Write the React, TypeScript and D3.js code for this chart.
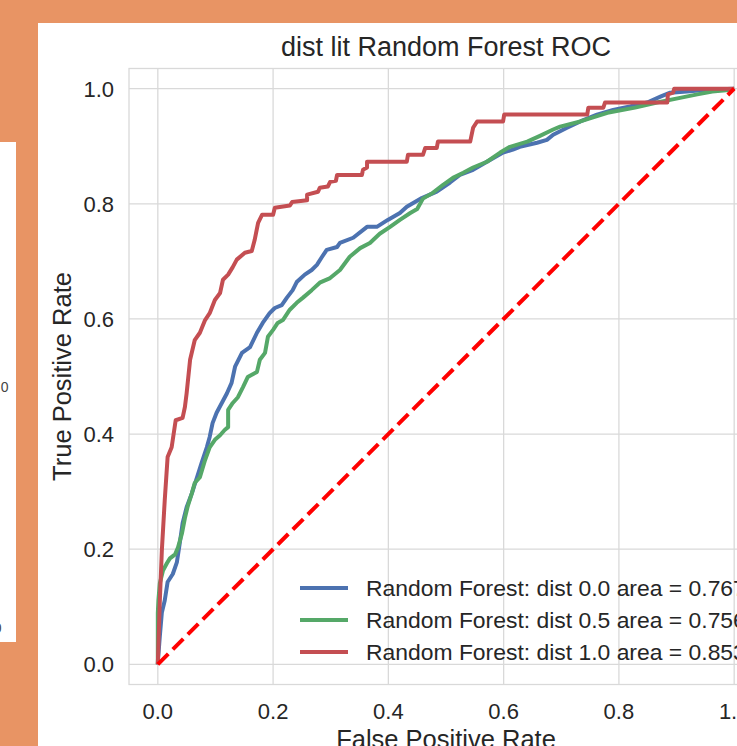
import React from "react";
import * as d3 from "d3";

// Axis ticks
const xTicks = [0, 0.2, 0.4, 0.6, 0.8, 1.0];
const yTicks = [0, 0.2, 0.4, 0.6, 0.8, 1.0];

// Legend labels
const seriesLabels = [
  "Random Forest: dist 0.0 area = 0.767",
  "Random Forest: dist 0.5 area = 0.756",
  "Random Forest: dist 1.0 area = 0.853",
];
const seriesColors = ["#4C72B0", "#55A868", "#C44E52"];

// ROC curve, dist 0.0
const fprDist00 = [0, 0.0005, 0.0035, 0.007, 0.012, 0.017, 0.026, 0.033, 0.038, 0.043, 0.05, 0.059, 0.068, 0.076, 0.085, 0.09, 0.095, 0.102, 0.111, 0.12, 0.128, 0.134, 0.146, 0.16, 0.172, 0.182, 0.194, 0.203, 0.215, 0.224, 0.234, 0.241, 0.255, 0.267, 0.276, 0.285, 0.293, 0.311, 0.316, 0.339, 0.363, 0.38, 0.399, 0.42, 0.432, 0.458, 0.484, 0.507, 0.524, 0.547, 0.571, 0.599, 0.616, 0.628, 0.658, 0.675, 0.686, 0.71, 0.733, 0.762, 0.79, 0.819, 0.849, 0.872, 0.889, 0.918, 0.953, 1.0];
const tprDist00 = [0, 0.01, 0.049, 0.09, 0.111, 0.143, 0.157, 0.177, 0.21, 0.245, 0.273, 0.297, 0.325, 0.35, 0.377, 0.395, 0.419, 0.437, 0.454, 0.471, 0.489, 0.517, 0.541, 0.551, 0.576, 0.593, 0.61, 0.619, 0.624, 0.637, 0.65, 0.664, 0.677, 0.685, 0.694, 0.708, 0.72, 0.725, 0.732, 0.741, 0.76, 0.76, 0.772, 0.784, 0.795, 0.81, 0.821, 0.837, 0.85, 0.859, 0.873, 0.889, 0.894, 0.899, 0.906, 0.911, 0.92, 0.932, 0.943, 0.955, 0.963, 0.969, 0.976, 0.986, 0.993, 0.995, 0.998, 1.0];

// ROC curve, dist 0.5
const fprDist05 = [0, 0, 0, 0.001, 0.0035, 0.009, 0.016, 0.021, 0.03, 0.035, 0.042, 0.047, 0.052, 0.059, 0.064, 0.073, 0.082, 0.09, 0.099, 0.108, 0.116, 0.122, 0.122, 0.13, 0.139, 0.148, 0.156, 0.172, 0.177, 0.186, 0.191, 0.2, 0.208, 0.217, 0.229, 0.241, 0.252, 0.267, 0.281, 0.299, 0.316, 0.333, 0.351, 0.368, 0.385, 0.403, 0.42, 0.438, 0.45, 0.46, 0.477, 0.495, 0.512, 0.53, 0.547, 0.571, 0.594, 0.611, 0.641, 0.663, 0.686, 0.698, 0.733, 0.78, 0.828, 0.866, 0.906, 0.936, 0.962, 0.986, 1.0];
const tprDist05 = [0, 0.037, 0.089, 0.111, 0.141, 0.163, 0.176, 0.184, 0.191, 0.203, 0.228, 0.254, 0.275, 0.297, 0.315, 0.325, 0.355, 0.377, 0.39, 0.398, 0.407, 0.412, 0.442, 0.454, 0.464, 0.482, 0.499, 0.508, 0.529, 0.541, 0.569, 0.581, 0.593, 0.598, 0.616, 0.628, 0.637, 0.65, 0.663, 0.671, 0.685, 0.708, 0.723, 0.732, 0.748, 0.76, 0.772, 0.784, 0.791, 0.809, 0.819, 0.833, 0.845, 0.854, 0.863, 0.873, 0.889, 0.899, 0.908, 0.918, 0.929, 0.934, 0.943, 0.958, 0.967, 0.976, 0.984, 0.99, 0.995, 0.997, 1.0];

// ROC curve, dist 1.0
const fprDist10 = [0, 0.0035, 0.007, 0.012, 0.017, 0.024, 0.031, 0.043, 0.047, 0.05, 0.056, 0.064, 0.073, 0.082, 0.09, 0.099, 0.108, 0.113, 0.122, 0.13, 0.137, 0.151, 0.163, 0.168, 0.174, 0.181, 0.2, 0.203, 0.229, 0.233, 0.259, 0.259, 0.278, 0.281, 0.295, 0.299, 0.309, 0.311, 0.354, 0.356, 0.363, 0.363, 0.432, 0.434, 0.46, 0.464, 0.484, 0.486, 0.542, 0.547, 0.554, 0.599, 0.601, 0.745, 0.747, 0.773, 0.776, 0.884, 0.885, 0.894, 0.896, 1.0];
const tprDist10 = [0, 0.111, 0.198, 0.285, 0.36, 0.377, 0.424, 0.428, 0.447, 0.471, 0.529, 0.563, 0.576, 0.598, 0.61, 0.633, 0.645, 0.668, 0.677, 0.69, 0.703, 0.715, 0.718, 0.737, 0.767, 0.781, 0.781, 0.793, 0.797, 0.803, 0.806, 0.816, 0.821, 0.828, 0.83, 0.838, 0.84, 0.85, 0.85, 0.859, 0.863, 0.873, 0.873, 0.885, 0.885, 0.897, 0.897, 0.908, 0.908, 0.932, 0.943, 0.943, 0.955, 0.955, 0.967, 0.967, 0.976, 0.976, 0.99, 0.993, 1.0, 1.0];

const curves = [
  { fpr: fprDist00, tpr: tprDist00 },
  { fpr: fprDist05, tpr: tprDist05 },
  { fpr: fprDist10, tpr: tprDist10 },
];

const W = 737;
const H = 746;
const FONT = "'Liberation Sans', Arial, Helvetica, sans-serif";

const plot = { left: 129, top: 68.5, bottom: 684.5, right: 763 };

export default function App() {
  const x = d3.scaleLinear().domain([-0.05, 1.05]).range([plot.left, plot.right]);
  const y = d3
    .scaleLinear()
    .domain([-0.035, 1.035])
    .range([plot.bottom, plot.top]);

  const line = d3
    .line<[number, number]>()
    .x((d) => x(d[0]))
    .y((d) => y(d[1]));

  const diag = line([
    [0, 0],
    [1, 1],
  ]);

  return (
    <svg
      width={W}
      height={H}
      style={{ position: "absolute", left: 0, top: 0, display: "block" }}
      fontFamily={FONT}
    >
      <defs>
        <clipPath id="axes-clip">
          <rect x={plot.left} y={plot.top} width={plot.right - plot.left} height={plot.bottom - plot.top} />
        </clipPath>
        <clipPath id="side-clip">
          <rect x={0} y={142} width={16} height={500} />
        </clipPath>
      </defs>
      <rect x={0} y={0} width={W} height={H} fill="#E89464" />
      {/* neighbouring panel */}
      <rect x={0} y={142} width={16} height={500} fill="#ffffff" />
      <g clipPath="url(#side-clip)" fill="#444" fontSize={14}>
        <text x={8.5} y={392} textAnchor="end">1.0</text>
        <text x={1.5} y={633} textAnchor="end">1.0</text>
      </g>
      {/* main figure */}
      <rect x={38} y={23} width={W - 38} height={H - 23} fill="#ffffff" />

      {/* grid */}
      <g stroke="#d9d9d9" strokeWidth={1.3}>
        {xTicks.map((t) => (
          <line key={"gx" + t} x1={x(t)} x2={x(t)} y1={plot.top} y2={plot.bottom} />
        ))}
        {yTicks.map((t) => (
          <line key={"gy" + t} x1={plot.left} x2={plot.right} y1={y(t)} y2={y(t)} />
        ))}
      </g>
      <rect
        x={plot.left}
        y={plot.top}
        width={plot.right - plot.left}
        height={plot.bottom - plot.top}
        fill="none"
        stroke="#d9d9d9"
        strokeWidth={1.3}
      />

      {/* curves */}
      <g clipPath="url(#axes-clip)" fill="none" strokeLinejoin="round">
        {curves.map((c, i) => (
          <path
            key={i}
            d={line(c.fpr.map((f, j) => [f, c.tpr[j]] as [number, number])) || ""}
            stroke={seriesColors[i]}
            strokeWidth={4}
          />
        ))}
        <path d={diag || ""} stroke="#FF0000" strokeWidth={4} strokeDasharray="14.8 6.4" />
      </g>

      {/* tick labels */}
      <g fill="#262626" fontSize={22}>
        {yTicks.map((t) => (
          <text key={"ty" + t} x={114} y={y(t)} dy="0.36em" textAnchor="end">
            {t.toFixed(1)}
          </text>
        ))}
        {xTicks.map((t) => (
          <text key={"tx" + t} x={x(t)} y={719} textAnchor="middle">
            {t.toFixed(1)}
          </text>
        ))}
      </g>

      {/* axis labels and title */}
      <text x={(plot.left + plot.right) / 2} y={748} textAnchor="middle" fontSize={25.5} fill="#262626">
        False Positive Rate
      </text>
      <text
        transform={`translate(71, ${(plot.top + plot.bottom) / 2}) rotate(-90)`}
        textAnchor="middle"
        fontSize={25.5}
        fill="#262626"
      >
        True Positive Rate
      </text>
      <text x={(plot.left + plot.right) / 2} y={56} textAnchor="middle" fontSize={27} fill="#262626">
        dist lit Random Forest ROC
      </text>

      {/* legend */}
      <g fontSize={22.9} fill="#262626">
        {seriesLabels.map((s, i) => {
          const cy = 588 + i * 32;
          return (
            <g key={s}>
              <line x1={300} x2={348} y1={cy} y2={cy} stroke={seriesColors[i]} strokeWidth={4} />
              <text x={366} y={cy} dy="0.36em">
                {s}
              </text>
            </g>
          );
        })}
      </g>
    </svg>
  );
}
